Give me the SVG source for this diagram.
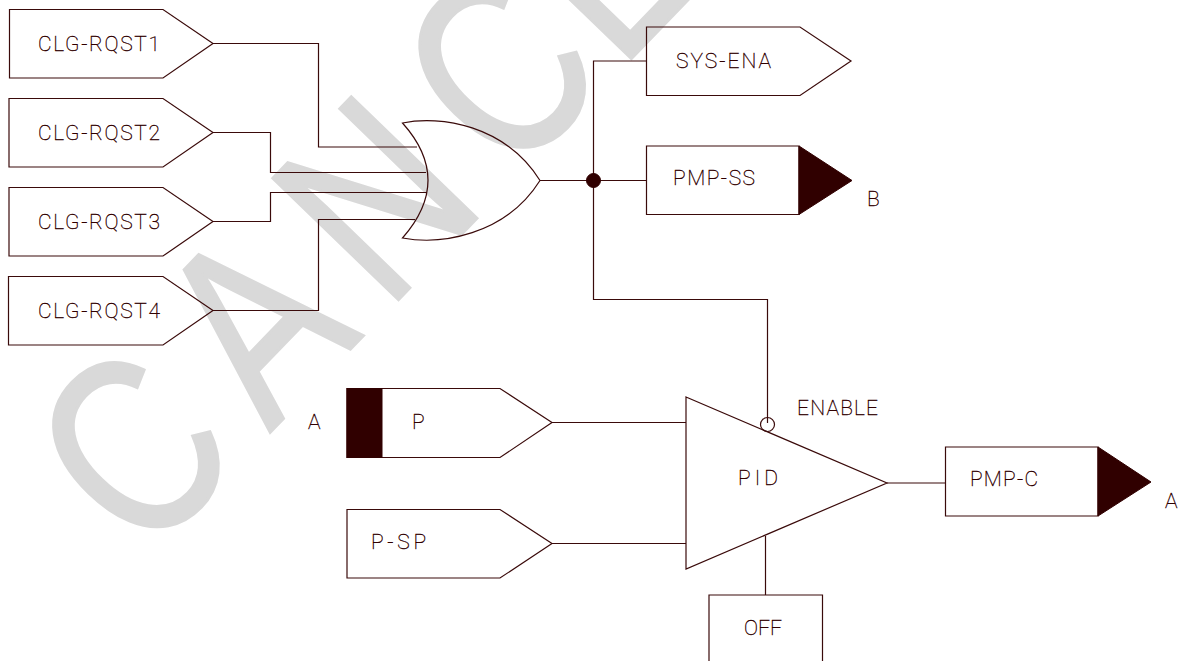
<svg xmlns="http://www.w3.org/2000/svg" width="1182" height="661" viewBox="0 0 1182 661">
<style>
.s{fill:none;stroke:#3a0a0a;stroke-width:1.2}
.w{fill:none;stroke:#3a0a0a;stroke-width:1.2}
.k{fill:#300000;stroke:#300000;stroke-width:1}
.t{font-family:"Roboto","Liberation Mono",monospace;font-weight:100;font-size:21px;fill:#300000;stroke:#300000;stroke-width:.35}
.wm{font-family:"Liberation Sans",sans-serif;font-size:254px;letter-spacing:41px;fill:#d9d9d9;stroke:#d9d9d9;stroke-width:3}
</style>
<rect width="1182" height="661" fill="#fff"/>
<text class="wm" transform="translate(145,562) rotate(-46) scale(.8,1)">CANC<tspan dx="-30">EL</tspan></text>
<g id="connectors">
<path class="w" d="M213 43.5H318.5V147H417"/>
<path class="w" d="M213 132.5H270.5V172.5H426"/>
<path class="w" d="M213 221.5H270.5V192.5H427"/>
<path class="w" d="M213 310.5H318.5V219.5H415"/>
<path class="w" d="M540 180.5H646.5"/>
<path class="w" d="M646.5 61H593.5V299.5H767.5V423"/>
<path class="w" d="M552 422.5H686"/>
<path class="w" d="M552 543.5H686"/>
<path class="w" d="M887 483H945.5"/>
<path class="w" d="M765.5 536V595"/>
<circle cx="593.5" cy="180.5" r="7" class="k"/>
</g>
<g id="clg1"><path class="s" d="M9.5 9.5H163L213 43.5L163 78H9.5Z"/><text class="t" x="38" y="51" textLength="122">CLG-RQST1</text></g>
<g id="clg2"><path class="s" d="M9 98.5H163L213 132.5L163 167H9Z"/><text class="t" x="38" y="140" textLength="122">CLG-RQST2</text></g>
<g id="clg3"><path class="s" d="M9 187.5H163L213 221.5L163 256H9Z"/><text class="t" x="38" y="229" textLength="122">CLG-RQST3</text></g>
<g id="clg4"><path class="s" d="M8.5 276.5H163L213 310.5L163 345H8.5Z"/><text class="t" x="38" y="318" textLength="122">CLG-RQST4</text></g>
<g id="or"><path class="s" d="M402.5 123Q453.5 180 402.5 238C440 245 505 236 540 180.5C505 125 440 115 402.5 123Z"/></g>
<g id="sysena"><path class="s" d="M646.5 27H800L851 61L800 95.5H646.5Z"/><text class="t" x="676" y="68" textLength="95">SYS-ENA</text></g>
<g id="pmpss"><path class="s" d="M646.5 146H799L799 214.5H646.5Z"/><path class="k" d="M799 146L852 180.5L799 214.5Z"/><text class="t" x="673" y="185" textLength="82">PMP-SS</text></g>
<text class="t" x="867" y="206">B</text>
<g id="p"><path class="s" d="M347 388.5H500L552 422.5L500 457.5H347Z"/><rect class="k" x="347" y="388.5" width="35" height="69"/><text class="t" x="412" y="429">P</text></g>
<text class="t" x="308" y="429">A</text>
<g id="psp"><path class="s" d="M347 509.5H500L552 543.5L500 578H347Z"/><text class="t" x="371" y="549" textLength="55">P-SP</text></g>
<g id="pid"><path class="s" d="M686 397L887 483L686 569Z"/><text class="t" x="738" y="485" textLength="40">PID</text></g>
<g id="enable"><circle class="s" cx="767.5" cy="424.5" r="7"/><text class="t" x="797" y="415" textLength="81">ENABLE</text></g>
<g id="pmpc"><path class="s" d="M945.5 447H1098V516H945.5Z"/><path class="k" d="M1098 447L1151 482L1098 516Z"/><text class="t" x="970" y="486" textLength="68">PMP-C</text></g>
<text class="t" x="1165" y="508">A</text>
<g id="off"><path class="s" d="M709 661V595H822.5V661"/><text class="t" x="744" y="635" textLength="38">OFF</text></g>
</svg>
